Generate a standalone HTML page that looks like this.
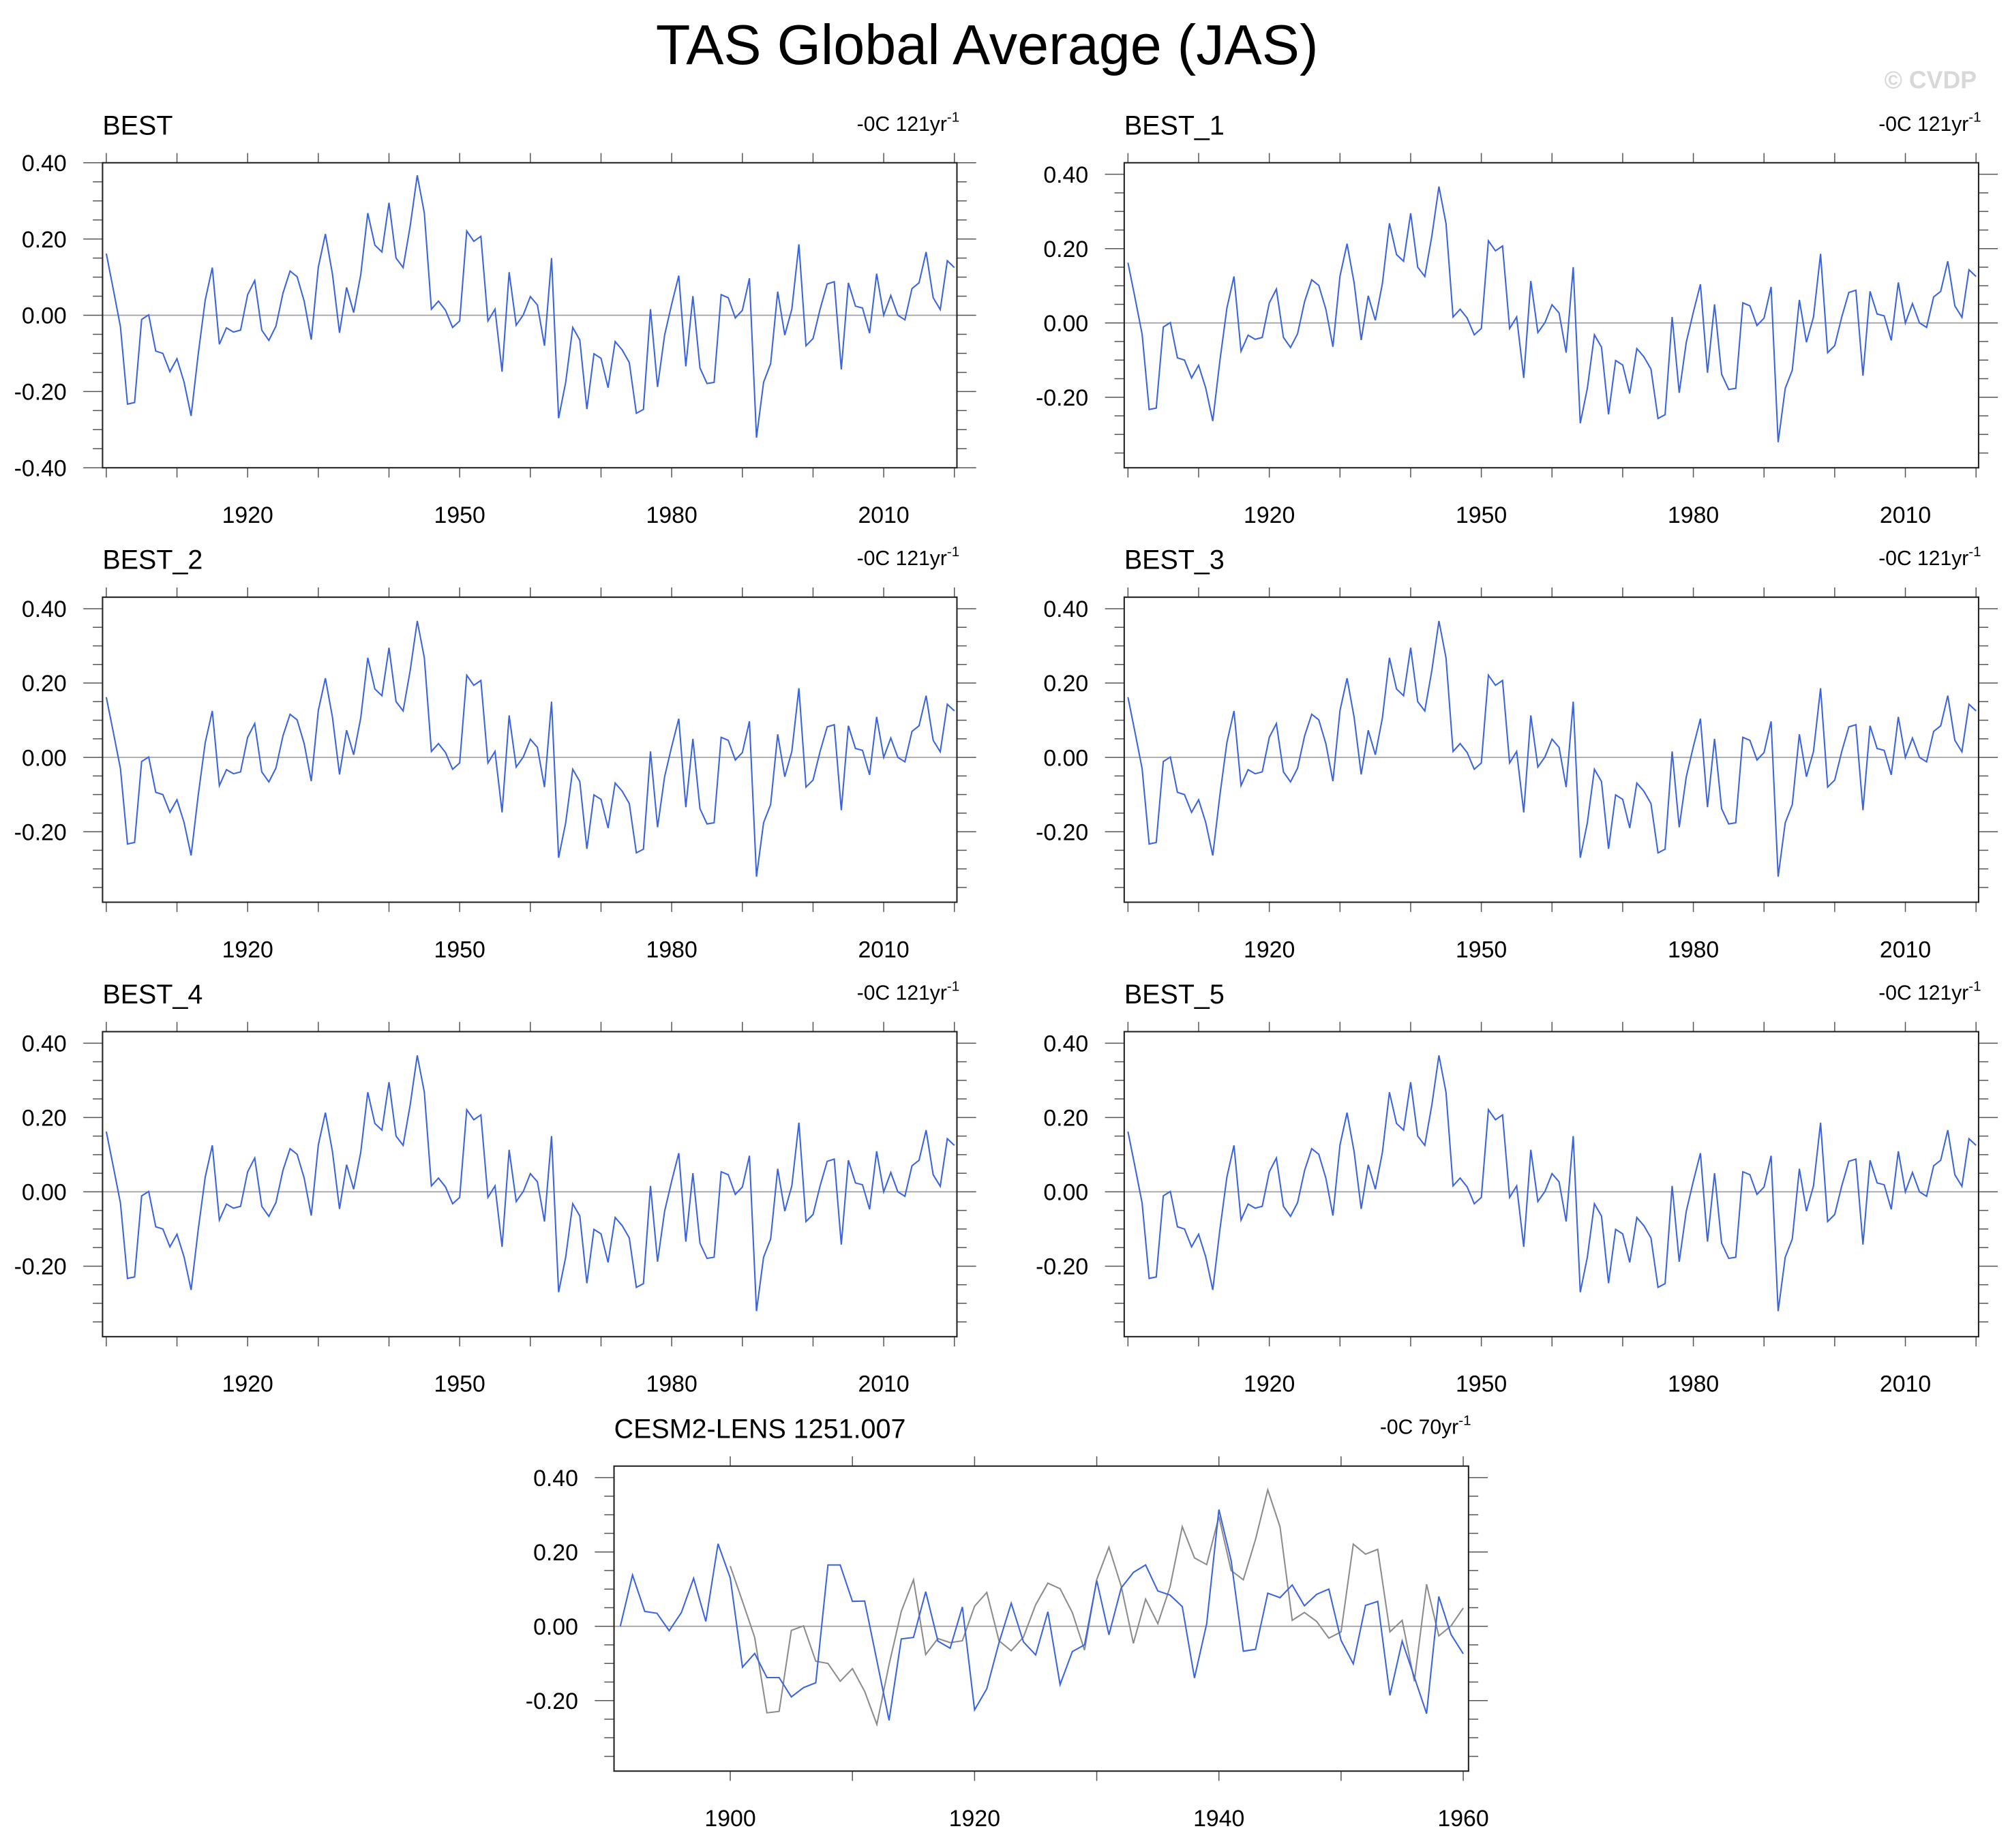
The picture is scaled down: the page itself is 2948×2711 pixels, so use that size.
<!DOCTYPE html>
<html><head><meta charset="utf-8"><style>
html,body{margin:0;padding:0;background:#fff;}
svg{display:block;font-family:"Liberation Sans",Arial,sans-serif;}
</style></head><body>
<svg id="chart" width="2948" height="2711" viewBox="0 0 1568 1442" preserveAspectRatio="none" xmlns="http://www.w3.org/2000/svg">
<rect width="1568" height="1442" fill="#fff"/>
<text x="770" y="50" font-size="44" text-anchor="middle">TAS Global Average (JAS)</text>
<text x="1542" y="69" font-size="19" font-weight="bold" fill="#d8d8d8" text-anchor="end">© CVDP</text>
</svg>
<script>
const bestYears = [];
for (let y = 1900; y <= 2020; y++) bestYears.push(y);
const bestValues = [0.162,0.067,-0.030,-0.233,-0.229,-0.011,0.001,-0.094,-0.100,-0.148,
-0.114,-0.175,-0.264,-0.103,0.040,0.125,-0.076,-0.033,-0.044,-0.039,
0.054,0.091,-0.039,-0.066,-0.029,0.058,0.116,0.101,0.037,-0.064,
0.126,0.213,0.108,-0.046,0.073,0.007,0.106,0.268,0.184,0.166,
0.295,0.150,0.125,0.234,0.367,0.268,0.016,0.037,0.013,-0.032,
-0.015,0.221,0.194,0.207,-0.015,0.016,-0.148,0.113,-0.026,0.001,
0.049,0.027,-0.080,0.150,-0.270,-0.176,-0.032,-0.065,-0.246,-0.101,
-0.113,-0.190,-0.069,-0.091,-0.124,-0.257,-0.247,0.016,-0.188,-0.052,
0.029,0.104,-0.134,0.050,-0.138,-0.179,-0.176,0.054,0.046,-0.007,
0.013,0.097,-0.321,-0.176,-0.127,0.062,-0.052,0.016,0.186,-0.080,
-0.061,0.016,0.082,0.088,-0.142,0.085,0.024,0.019,-0.047,0.109,
0.000,0.052,0.000,-0.012,0.070,0.085,0.166,0.046,0.015,0.143,0.125];
const cesmYears = [];
for (let y = 1891; y <= 1960; y++) cesmYears.push(y);
const cesmValues = [0.000,0.138,0.040,0.035,-0.012,0.037,0.129,0.013,0.222,0.130,
-0.110,-0.073,-0.138,-0.138,-0.190,-0.165,-0.152,0.165,0.165,0.067,
0.068,-0.092,-0.253,-0.034,-0.030,0.093,-0.040,-0.059,0.052,-0.225,
-0.168,-0.044,0.062,-0.042,-0.077,0.039,-0.157,-0.068,-0.050,0.123,
-0.023,0.103,0.145,0.165,0.095,0.084,0.053,-0.139,0.007,0.314,
0.177,-0.067,-0.062,0.089,0.077,0.111,0.055,0.086,0.100,-0.038,
-0.101,0.056,0.067,-0.186,-0.040,-0.137,-0.235,0.080,-0.022,-0.074];
const yTickLabels = ["-0.40","-0.20","0.00","0.20","0.40"];
const bestXTicks = [1920,1950,1980,2010];
const cesmXTicks = [1900,1920,1940,1960];
const panelTitles = ["BEST","BEST_1","BEST_2","BEST_3","BEST_4","BEST_5"];

const NS = "http://www.w3.org/2000/svg";
const svg = document.getElementById("chart");
function mk(tag, attrs, parent) {
  const e = document.createElementNS(NS, tag);
  for (const k in attrs) e.setAttribute(k, attrs[k]);
  (parent || svg).appendChild(e);
  return e;
}

function panel(opt) {
  const g = mk("g", {});
  
  
  const {x0, x1, y0, y1, xmin, xmax, ymin, ymax} = opt;
  const sx = v => x0 + (v - xmin) / (xmax - xmin) * (x1 - x0);
  const sy = v => y1 - (v - ymin) / (ymax - ymin) * (y1 - y0);
  const zl = mk("line", {x1: x0, x2: x1, y1: sy(0), y2: sy(0), stroke: "#a0a0a0", "stroke-width": 0.9}, g);
  
  
  for (let k = -8; k <= 8; k++) {
    const v = k * 0.05;
    if (v < ymin - 1e-9 || v > ymax + 1e-9) continue;
    const major = k % 4 === 0;
    const len = major ? 15 : 7.6;
    const yy = sy(v);
    mk("line", {x1: x0 - len, x2: x0, y1: yy, y2: yy, stroke: "#555", "stroke-width": 0.8}, g);
    mk("line", {x1: x1, x2: x1 + len, y1: yy, y2: yy, stroke: "#555", "stroke-width": 0.8}, g);
  }
  yTickLabels.forEach(s => {
    const v = parseFloat(s);
    if (v < ymin - 1e-9 || v > ymax + 1e-9) return;
    const t = mk("text", {x: x0 - 28, y: sy(v) + 6.5, "font-size": 18, "text-anchor": "end"}, g);
    
    
    t.textContent = s;
  });
  for (let yr = Math.ceil(xmin / 10) * 10; yr <= xmax; yr += 10) {
    const xx = sx(yr);
    const len = 7.6;
    mk("line", {x1: xx, x2: xx, y1: y0 - len, y2: y0, stroke: "#555", "stroke-width": 0.8}, g);
    mk("line", {x1: xx, x2: xx, y1: y1, y2: y1 + len, stroke: "#555", "stroke-width": 0.8}, g);
  }
  opt.xticks.forEach(yr => {
    const t = mk("text", {x: sx(yr), y: y1 + 43, "font-size": 18, "text-anchor": "middle"}, g);
    
    
    t.textContent = yr;
  });
  opt.series.forEach(s => {
    const pts = s.years.map((yr, i) => sx(yr).toFixed(2) + "," + sy(s.values[i]).toFixed(2)).join(" ");
    const p = mk("polyline", {points: pts, fill: "none", stroke: s.color, "stroke-width": 1.1, "stroke-linejoin": "miter"}, g);
    
    
  });
  const b = mk("rect", {x: x0, y: y0, width: x1 - x0, height: y1 - y0, fill: "none", stroke: "#222", "stroke-width": 1.1}, g);
  
  
  const t1 = mk("text", {x: x0, y: y0 - 22, "font-size": 21}, g);
  
  
  t1.textContent = opt.title;
  const t2 = mk("text", {x: x1 + 2, y: y0 - 25, "font-size": 16, "text-anchor": "end"}, g);
  
  
  t2.textContent = opt.trend;
  const sup = mk("tspan", {dy: -7, "font-size": 11}, t2);
  sup.textContent = "-1";
}

const rowsTop = [127, 466, 805];
panelTitles.forEach((title, i) => {
  const col = i % 2, row = Math.floor(i / 2);
  const x0 = col ? 877 : 80, x1 = col ? 1543.5 : 746.5;
  const y0 = rowsTop[row], y1 = y0 + 238;
  const first = i === 0;
  panel({
    name: "panel-" + title.toLowerCase().replace("_", "-"),
    title: title, trend: "-0C 121yr",
    x0, x1, y0, y1, xmin: 1899.47, xmax: 2020.36,
    ymin: first ? -0.4 : -0.3897, ymax: first ? 0.4 : 0.4310,
    xticks: bestXTicks,
    series: [{name: "best-series-line", years: bestYears, values: bestValues, color: "#3a64e0"}]
  });
});
panel({
  name: "panel-cesm2-lens",
  title: "CESM2-LENS 1251.007", trend: "-0C 70yr",
  x0: 479, x1: 1145.6, y0: 1144, y1: 1382,
  xmin: 1891 - (483.9 - 479) / 9.53, xmax: 1891 + (1145.6 - 483.9) / 9.53,
  ymin: -0.3897, ymax: 0.4310,
  xticks: cesmXTicks,
  series: [
    {name: "best-reference-line", years: bestYears.slice(0, 61), values: bestValues.slice(0, 61), color: "#8c8c8c"},
    {name: "cesm-series-line", years: cesmYears, values: cesmValues, color: "#3a64e0"}
  ]
});
</script>
</body></html>
